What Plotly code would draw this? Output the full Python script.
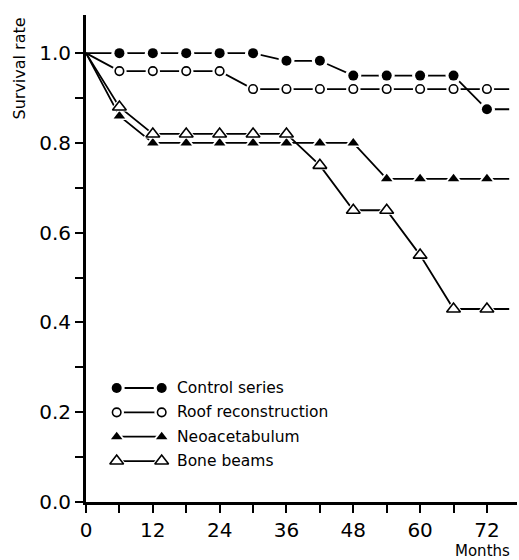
import plotly.graph_objects as go

# ---- data ----
months = [0, 6, 12, 18, 24, 30, 36, 42, 48, 54, 60, 66, 72]
tail_month = 76
control = [1.0, 1.0, 1.0, 1.0, 1.0, 1.0, 0.983, 0.983, 0.95, 0.95, 0.95, 0.95, 0.875]
roof = [1.0, 0.96, 0.96, 0.96, 0.96, 0.92, 0.92, 0.92, 0.92, 0.92, 0.92, 0.92, 0.92]
neo = [1.0, 0.86, 0.80, 0.80, 0.80, 0.80, 0.80, 0.80, 0.80, 0.72, 0.72, 0.72, 0.72]
bone = [1.0, 0.88, 0.82, 0.82, 0.82, 0.82, 0.82, 0.75, 0.65, 0.65, 0.55, 0.43, 0.43]
names = ["Control series", "Roof reconstruction", "Neoacetabulum", "Bone beams"]
x_ticks = [0, 12, 24, 36, 48, 60, 72]
y_ticks = [0.0, 0.2, 0.4, 0.6, 0.8, 1.0]

FONT = "DejaVu Sans"
styles = [
    dict(symbol="circle", size=10, color="black", lw=0),
    dict(symbol="circle", size=8.5, color="white", lw=1.6),
    dict(symbol="triangle-up", size=10, color="black", lw=0),
    dict(symbol="triangle-up", size=12, color="white", lw=1.6),
]
series = [control, roof, neo, bone]

fig = go.Figure()


def add_series(xs_line, ys_line, xs_m, ys_m, st, xaxis="x", yaxis="y"):
    fig.add_trace(go.Scatter(x=xs_line, y=ys_line, mode="lines",
                             line=dict(color="black", width=1.8), cliponaxis=False,
                             xaxis=xaxis, yaxis=yaxis, showlegend=False, hoverinfo="skip"))
    fig.add_trace(go.Scatter(x=xs_m, y=ys_m, mode="markers", cliponaxis=False,
                             marker=dict(symbol=st["symbol"], size=st["size"] + 6, color="white",
                                         line=dict(width=0)),
                             xaxis=xaxis, yaxis=yaxis, showlegend=False, hoverinfo="skip"))
    fig.add_trace(go.Scatter(x=xs_m, y=ys_m, mode="markers", cliponaxis=False,
                             marker=dict(symbol=st["symbol"], size=st["size"], color=st["color"],
                                         line=dict(color="black", width=st["lw"])),
                             xaxis=xaxis, yaxis=yaxis, showlegend=False, hoverinfo="skip"))


for vals, st in zip(series, styles):
    add_series(months + [tail_month], vals + [vals[-1]], months[1:], vals[1:], st)

# custom legend glyphs (marker - line - marker)
for i, (nm, st) in enumerate(zip(names, styles)):
    add_series([0, 1], [i, i], [0, 1], [i, i], st, xaxis="x2", yaxis="y2")
    fig.add_annotation(x=1, y=i, xref="x2", yref="y2", text=nm, showarrow=False,
                       xanchor="left", yanchor="middle", xshift=13,
                       font=dict(family=FONT, size=15.5, color="black"))

axis_common = dict(showline=True, linewidth=3, linecolor="black", ticks="outside",
                   ticklen=8, tickwidth=2, tickcolor="black", showgrid=False, zeroline=False,
                   tickfont=dict(family=FONT, size=20, color="black"))

fig.update_layout(
    width=519, height=560,
    margin=dict(l=86, r=2, t=15, b=58),
    paper_bgcolor="white", plot_bgcolor="white",
    showlegend=False,
    xaxis=dict(range=[0, 77.4], tickvals=x_ticks, ticktext=[str(v) for v in x_ticks],
               minor=dict(dtick=6, tick0=0, ticks="outside", ticklen=8, tickwidth=2,
                          tickcolor="black"),
               **axis_common),
    yaxis=dict(range=[0, 1.085], tickvals=y_ticks, ticktext=[f"{v:.1f}" for v in y_ticks],
               minor=dict(dtick=0.1, tick0=0, ticks="outside", ticklen=8, tickwidth=2,
                          tickcolor="black"),
               **axis_common),
    xaxis2=dict(domain=[0.0712, 0.1756], range=[0, 1], visible=False, anchor="y2"),
    yaxis2=dict(domain=[0.0591, 0.2591], range=[3.5, -0.5], visible=False, anchor="x2"),
)

fig.add_annotation(x=-0.1543, y=1.0, xref="paper", yref="paper", text="Survival rate",
                   textangle=-90, showarrow=False, xanchor="center", yanchor="top",
                   font=dict(family=FONT, size=16, color="black"))
fig.add_annotation(x=0.919, y=-0.1006, xref="paper", yref="paper", text="Months",
                   showarrow=False, xanchor="center", yanchor="middle", borderpad=0,
                   font=dict(family=FONT, size=15, color="black"))

fig.write_html("out.html", config={"displayModeBar": False},
               post_script="document.body.style.margin='0';document.body.style.padding='0';")
